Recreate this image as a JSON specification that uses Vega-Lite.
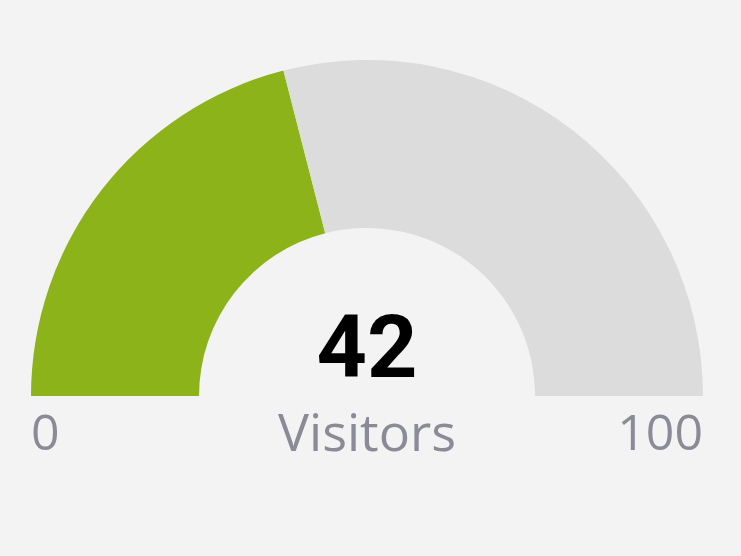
{
  "$schema": "https://vega.github.io/schema/vega-lite/v6.json",
  "width": 672,
  "height": 336,
  "padding": {"left": 31, "right": 38, "top": 60, "bottom": 160},
  "autosize": {"type": "none"},
  "background": "#f3f3f3",
  "config": {"view": {"stroke": null}},
  "data": {"values": [
    {"segment": "Visitors", "value": 42, "idx": 0},
    {"segment": "Remaining", "value": 58, "idx": 1}
  ]},
  "layer": [
    {
      "mark": {"type": "arc", "radius": 336, "radius2": 168, "stroke": null},
      "encoding": {
        "theta": {"field": "value", "type": "quantitative", "stack": true, "scale": {"domain": [0, 100], "range": [-1.5707963, 1.5707963]}},
        "order": {"field": "idx", "type": "quantitative"},
        "color": {"field": "segment", "type": "nominal", "scale": {"domain": ["Visitors", "Remaining"], "range": ["#8db31a", "#dcdcdc"]}, "legend": null},
        "x": {"datum": 0, "type": "quantitative", "scale": {"domain": [-1, 1], "nice": false, "zero": false}, "axis": null},
        "y": {"datum": 0, "type": "quantitative", "scale": {"domain": [0, 1], "nice": false, "zero": false}, "axis": null}
      }
    },
    {
      "transform": [{"filter": "datum.segment == 'Visitors'"}],
      "mark": {"type": "text", "font": "Roboto", "fontWeight": "bold", "fontSize": 88, "color": "#000000", "align": "center", "baseline": "alphabetic"},
      "encoding": {
        "text": {"field": "value", "type": "quantitative"},
        "x": {"datum": 0, "type": "quantitative", "scale": {"domain": [-1, 1], "nice": false, "zero": false}, "axis": null},
        "y": {"datum": 0.0565, "type": "quantitative", "scale": {"domain": [0, 1], "nice": false, "zero": false}, "axis": null}
      }
    },
    {
      "transform": [{"filter": "datum.segment == 'Visitors'"}],
      "mark": {"type": "text", "font": "Open Sans", "fontSize": 52, "color": "#8a8b96", "align": "center", "baseline": "alphabetic"},
      "encoding": {
        "text": {"field": "segment", "type": "nominal"},
        "x": {"datum": 0, "type": "quantitative", "scale": {"domain": [-1, 1], "nice": false, "zero": false}, "axis": null},
        "y": {"datum": -0.164, "type": "quantitative", "scale": {"domain": [0, 1], "nice": false, "zero": false}, "axis": null}
      }
    },
    {
      "transform": [{"filter": "datum.segment == 'Visitors'"}],
      "mark": {"type": "text", "font": "Open Sans", "fontSize": 50, "color": "#8a8b96", "align": "left", "baseline": "alphabetic"},
      "encoding": {
        "text": {"datum": "0"},
        "x": {"datum": -1, "type": "quantitative", "scale": {"domain": [-1, 1], "nice": false, "zero": false}, "axis": null},
        "y": {"datum": -0.161, "type": "quantitative", "scale": {"domain": [0, 1], "nice": false, "zero": false}, "axis": null}
      }
    },
    {
      "transform": [{"filter": "datum.segment == 'Visitors'"}],
      "mark": {"type": "text", "font": "Open Sans", "fontSize": 50, "color": "#8a8b96", "align": "right", "baseline": "alphabetic"},
      "encoding": {
        "text": {"datum": "100"},
        "x": {"datum": 1, "type": "quantitative", "scale": {"domain": [-1, 1], "nice": false, "zero": false}, "axis": null},
        "y": {"datum": -0.161, "type": "quantitative", "scale": {"domain": [0, 1], "nice": false, "zero": false}, "axis": null}
      }
    }
  ]
}
